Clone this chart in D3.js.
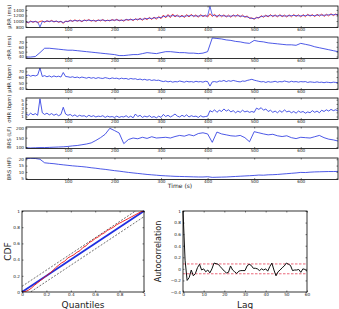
<!DOCTYPE html>
<html>
<head>
<meta charset="utf-8">
<script src="https://d3js.org/d3.v7.min.js"></script>
<style>
  body { margin: 0; background: #fff; }
  svg { display: block; font-family: "DejaVu Sans", sans-serif; }
</style>
</head>
<body>
<svg width="339" height="309"></svg>
<script>
// ---- data ----
// top panels: time grids (s)
const time5 = d3.range(10, 681, 5);
const time10 = d3.range(10, 681, 10);

const rrObs = [975,935,1005,955,995,945,985,
  1005,955,1015,975,1025,965,1005,955,995,915,1005,975,
  1035,985,1045,995,1035,975,1045,1005,1055,995,1035,985,1045,1005,1055,995,1035,1005,1055,1015,
  1065,1005,1045,995,1065,1025,1075,1015,1085,1035,1105,1025,1115,1045,1135,1055,1145,1065,1165,1085,
  1215,1115,1235,1125,1255,1145,1225,1135,1215,1125,1235,1145,1245,1155,1225,1135,1235,1155,1215,1145,
  1265,1165,1245,1135,1235,1155,1225,1145,1215,1135,1225,1155,1235,1145,1215,1135,1185,1095,1115,1065,
  1135,1105,1195,1135,1215,1145,1235,1155,1225,1145,1235,1155,1215,1145,1225,1155,1235,1165,1225,1145,
  1235,1155,1245,1175,1235,1155,1245,1175,1255,1165,1245,1185,1265,1195,1255,1205];

const rrMean = [965,960,980,975,980,970,790,
  985,980,995,990,1000,985,990,975,980,950,985,990,
  1010,1005,1020,1010,1015,1000,1020,1025,1030,1020,1015,1010,1025,1030,1035,1020,1020,1025,1035,1035,
  1040,1030,1025,1030,1045,1050,1050,1045,1060,1065,1070,1065,1080,1090,1100,1095,1110,1115,1125,1130,
  1165,1170,1185,1180,1195,1190,1180,1175,1170,1175,1185,1190,1195,1190,1180,1180,1190,1195,1180,1185,
  1530,1210,1195,1185,1190,1195,1185,1180,1175,1180,1190,1195,1190,1180,1175,1165,1145,1120,1095,1085,
  1115,1130,1160,1175,1180,1185,1195,1190,1190,1185,1195,1190,1180,1185,1190,1195,1200,1195,1190,1190,
  1195,1200,1210,1205,1200,1200,1210,1215,1210,1210,1215,1225,1230,1230,1230,1235];

const sdRR = [39,39,40,48,57,57,56,55,54,53,53,52,51,50,49,48,47,46,45,44,
  42,42,43,44,44,46,48,47,46,48,50,50,49,48,48,47,47,46,47,50,
  78,77,76,74,73,71,70,68,67,73,71,70,68,67,66,65,64,64,63,67,
  65,63,60,58,56,54,52,50];

const hrMean = [62.5,63.5,61.5,63,62,63.5,76,
  61,62.5,60.5,62,60,62,60.5,61.5,60,68,61,60.5,
  59.5,60.5,59,60,58.5,60,59,58,59.5,58,59,57.5,59,58,57.5,59,58,57,58.5,57.5,
  58,56.5,58,57,57.5,56,57.5,56.5,57,55.5,56.5,55,56,54.5,55.5,54,55,54,54.5,53,
  52,53,51.5,52.5,51,52,51.5,53,52,51,52.5,51.5,52,51,52.5,51.5,52,51,52.5,52,
  44,51.5,52,51,53,52.5,54,52,53.5,52.5,54,53,52,51.5,53,52.5,54,55,56,54.5,
  53.5,52.5,51.5,52,50.5,52,51,51.5,52.5,51,52,51.5,53,52,51,52.5,51.5,52,51,52,
  51.5,52,50.5,51.5,51,50.5,51.5,50.5,51,50,51,50.5,50,51,50.5,50];

const sdHR = [1.6,1.3,1.8,1.4,1.7,1.3,5.2,
  1.9,1.5,1.8,1.4,1.7,1.3,1.6,1.2,1.5,3.2,1.6,1.3,
  1.5,1.1,1.4,1.0,1.3,1.1,1.2,0.9,1.3,1.0,1.2,0.9,1.1,1.0,1.2,0.8,1.1,0.9,1.0,0.8,
  1.1,0.8,1.0,0.9,1.2,0.8,1.1,0.7,1.6,1.0,1.3,0.8,1.1,0.9,1.2,0.8,1.0,0.7,1.1,0.8,
  1.5,1.0,1.3,0.9,1.2,1.6,1.1,0.9,1.3,1.0,1.4,0.9,1.2,1.0,1.1,0.8,1.2,0.9,1.0,1.1,
  2.4,2.1,2.6,2.0,2.5,2.2,2.8,2.3,2.6,2.1,2.4,1.9,2.3,2.0,2.5,2.1,2.3,2.0,2.2,2.0,
  3.0,2.7,3.1,2.5,2.8,2.2,2.5,2.0,2.3,1.9,2.4,2.0,2.6,2.1,2.3,1.9,2.2,1.8,2.3,2.0,
  2.2,1.8,2.1,1.9,2.4,2.0,2.3,1.9,2.5,2.2,2.6,2.3,2.7,2.4,2.6,2.3];

const brsLF = [96,95,96,97,97,98,99,100,101,103,106,108,112,116,122,135,150,168,200,188,
  175,118,140,148,144,152,146,155,148,150,152,148,156,162,158,166,160,172,176,170,
  125,180,170,165,160,158,162,150,128,182,176,170,165,168,160,156,160,150,145,152,
  150,148,155,162,150,142,138,132];

const brsHF = [20.5,20.8,20.6,20.0,17.2,16.8,16.5,16.0,15.6,15.2,14.8,14.5,14.2,13.8,13.3,12.9,12.4,12.0,11.5,11.0,
  10.6,10.1,9.6,9.2,8.8,8.4,8.0,7.7,7.4,7.1,6.9,6.7,6.5,6.4,6.3,6.2,6.1,6.0,6.0,6.2,
  5.7,5.8,5.9,6.0,6.2,6.4,6.6,6.8,7.0,7.2,7.5,7.4,7.7,7.8,8.0,8.3,8.6,8.9,9.2,9.6,
  9.5,9.8,10.0,10.1,10.2,10.3,10.3,10.4];

const panelLabels = ["\u03bcRR (ms)", "\u03c3RR (ms)", "\u03bcHR (bpm)", "\u03c3HR (bpm)", "BRS (LF)", "BRS (HF)"];
const timeTicks = [100, 200, 300, 400, 500, 600];

// KS plot
const ksQuant = d3.range(0, 1.0001, 0.025);
const ksCdf = [0,0.005,0.02,0.045,0.08,0.11,0.14,0.17,0.2,0.23,0.26,0.3,0.33,0.36,0.38,0.42,0.44,0.46,0.49,0.51,
  0.55,0.57,0.61,0.63,0.66,0.68,0.71,0.73,0.76,0.78,0.8,0.83,0.85,0.87,0.89,0.91,0.93,0.95,0.97,0.99,1.0];
const ksBand = 0.07;
const unitTicks = [0, 0.2, 0.4, 0.6, 0.8, 1];

// autocorrelation
const acf = [1,0.15,-0.2,-0.15,-0.02,-0.12,-0.08,0.02,0.08,-0.02,0.0,-0.05,-0.02,-0.07,0.0,0.1,0.09,0.08,0.04,0.0,
  -0.04,-0.07,-0.06,0.05,-0.02,-0.05,-0.08,-0.04,-0.03,-0.03,-0.03,0.05,0.08,0.06,0.01,0.01,0.0,-0.03,0.0,-0.02,
  0.0,-0.04,0.04,0.1,-0.02,-0.12,-0.05,-0.02,0.02,0.05,0.1,0.08,0.06,-0.03,-0.02,-0.02,-0.01,-0.06,0.0,-0.01,-0.04];
const acfConf = 0.085;
const lagTicks = [0, 10, 20, 30, 40, 50, 60];
const acfTicks = [-0.4, -0.2, 0, 0.2, 0.4, 0.6, 0.8, 1];

// ---- drawing ----
const svg = d3.select("svg");
const BLUE = "#1f2fe0", RED = "#ee1111";

function boxAxes(g, x, y, w, h, xt, yt, fs, tick) {
  g.append("g").attr("transform", `translate(0,${h})`)
    .call(d3.axisBottom(x).tickValues(xt).tickSize(-tick).tickPadding(1).tickFormat(d3.format("")))
    .call(a => a.select(".domain").remove());
  g.append("g")
    .call(d3.axisTop(x).tickValues(xt).tickSize(-tick).tickFormat(""))
    .call(a => a.select(".domain").remove());
  g.append("g")
    .call(d3.axisLeft(y).tickValues(yt).tickSize(-tick).tickPadding(2).tickFormat(d3.format("")))
    .call(a => a.select(".domain").remove());
  g.append("g").attr("transform", `translate(${w},0)`)
    .call(d3.axisRight(y).tickValues(yt).tickSize(-tick).tickFormat(""))
    .call(a => a.select(".domain").remove());
  g.selectAll(".tick text").attr("font-size", fs).attr("font-family", "DejaVu Sans").attr("fill", "#222");
  g.selectAll(".tick line").attr("stroke", "#000").attr("stroke-width", 0.5);
  g.append("rect").attr("width", w).attr("height", h)
    .attr("fill", "none").attr("stroke", "#000").attr("stroke-width", 0.8);
}

// top stacked panels
const left = 26, right = 338, pw = right - left;
const panelTops = [6, 37, 68, 98, 127, 158], ph = 21.5;
const xTime = d3.scaleLinear().domain([10, 680]).range([0, pw]);

const panels = [
  {dom: [770, 1540], ticks: [800, 1000, 1200, 1400], series: [[time5, rrObs, RED, 0.8], [time5, rrMean, BLUE, 0.7]]},
  {dom: [36, 80], ticks: [40, 50, 60, 70], series: [[time10, sdRR, BLUE, 0.8]]},
  {dom: [38, 76], ticks: [40, 50, 60, 70], series: [[time5, hrMean, BLUE, 0.8]]},
  {dom: [0.3, 5.4], ticks: [1, 2, 3, 4, 5], series: [[time5, sdHR, BLUE, 0.8]]},
  {dom: [92, 207], ticks: [100, 150, 200], series: [[time10, brsLF, BLUE, 0.8]]},
  {dom: [4, 21], ticks: [5, 10, 15, 20], series: [[time10, brsHF, BLUE, 0.8]]}
];

panels.forEach((p, i) => {
  const g = svg.append("g").attr("transform", `translate(${left},${panelTops[i]})`);
  const y = d3.scaleLinear().domain(p.dom).range([ph, 0]);
  g.append("clipPath").attr("id", "clip" + i).append("rect").attr("width", pw).attr("height", ph);
  p.series.forEach(([tt, vals, col, sw]) => {
    const line = d3.line().x((d, k) => xTime(tt[k])).y(d => y(d));
    g.append("path").datum(vals).attr("d", line).attr("clip-path", `url(#clip${i})`)
      .attr("fill", "none").attr("stroke", col).attr("stroke-width", sw).attr("stroke-linejoin", "round");
  });
  boxAxes(g, xTime, y, pw, ph, timeTicks, p.ticks, 4.2, 1.5);
  g.append("text").attr("transform", `translate(-15,${ph / 2}) rotate(-90)`)
    .attr("text-anchor", "middle").attr("font-size", 5.2).attr("fill", "#222").text(panelLabels[i]);
});
svg.append("text").attr("x", 180).attr("y", 188).attr("text-anchor", "middle")
  .attr("font-size", 6).attr("fill", "#222").text("Time (s)");

// KS plot
{
  const x0 = 22, y0 = 211, w = 122, h = 81;
  const g = svg.append("g").attr("transform", `translate(${x0},${y0})`);
  const x = d3.scaleLinear().domain([0, 1]).range([0, w]);
  const y = d3.scaleLinear().domain([0, 1]).range([h, 0]);
  g.append("clipPath").attr("id", "clipks").append("rect").attr("width", w).attr("height", h);
  const ln = d3.line().x(d => x(d[0])).y(d => y(d[1]));
  [[[0, ksBand], [1, 1 + ksBand]], [[0, -ksBand], [1, 1 - ksBand]]].forEach(seg => {
    g.append("path").datum(seg).attr("d", ln).attr("clip-path", "url(#clipks)")
      .attr("stroke", "#333").attr("stroke-width", 0.7).attr("stroke-dasharray", "2,1.5").attr("fill", "none");
  });
  g.append("path").datum([[0, 0], [1, 1]]).attr("d", ln)
    .attr("stroke", BLUE).attr("stroke-width", 1.8).attr("fill", "none");
  g.append("path").datum(ksQuant.map((q, k) => [q, ksCdf[k]])).attr("d", ln).attr("clip-path", "url(#clipks)")
    .attr("stroke", RED).attr("stroke-width", 0.9).attr("fill", "none");
  boxAxes(g, x, y, w, h, unitTicks, unitTicks, 4.2, 1.5);
  g.append("text").attr("x", w / 2).attr("y", 307.5 - y0).attr("text-anchor", "middle")
    .attr("font-size", 9).attr("fill", "#222").text("Quantiles");
  g.append("text").attr("transform", `translate(-11,${h / 2}) rotate(-90)`).attr("text-anchor", "middle")
    .attr("font-size", 9).attr("fill", "#222").text("CDF");
}

// autocorrelation plot
{
  const x0 = 183, y0 = 211, w = 124, h = 81;
  const g = svg.append("g").attr("transform", `translate(${x0},${y0})`);
  const x = d3.scaleLinear().domain([0, 60]).range([0, w]);
  const y = d3.scaleLinear().domain([-0.4, 1]).range([h, 0]);
  [acfConf, -acfConf].forEach(c => {
    g.append("line").attr("x1", x(0)).attr("x2", x(60)).attr("y1", y(c)).attr("y2", y(c))
      .attr("stroke", "#e8556a").attr("stroke-width", 0.9).attr("stroke-dasharray", "2.5,1.5");
  });
  g.append("path").datum(acf).attr("d", d3.line().x((d, k) => x(k)).y(d => y(d)))
    .attr("stroke", "#111").attr("stroke-width", 1).attr("fill", "none");
  boxAxes(g, x, y, w, h, lagTicks, acfTicks, 4.2, 1.5);
  g.append("text").attr("x", w / 2).attr("y", 307.5 - y0).attr("text-anchor", "middle")
    .attr("font-size", 9).attr("fill", "#222").text("Lag");
  g.append("text").attr("transform", `translate(-22,${h / 2}) rotate(-90)`).attr("text-anchor", "middle")
    .attr("font-size", 8).attr("fill", "#222").text("Autocorrelation");
}
</script>
</body>
</html>
